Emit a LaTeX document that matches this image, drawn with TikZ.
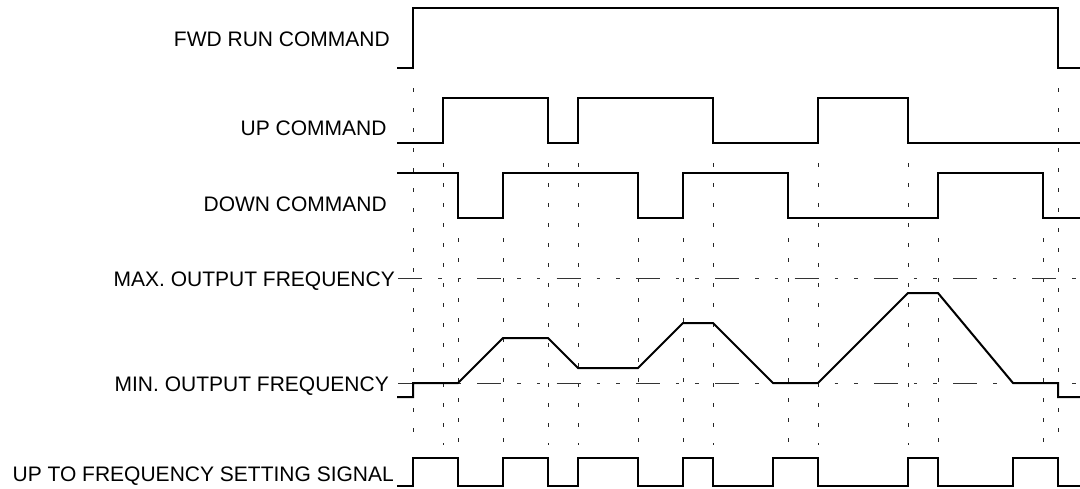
\documentclass[tikz,border=0pt]{standalone}
\usepackage{fontspec}
\setmainfont{Liberation Sans}
\begin{document}
\begin{tikzpicture}[x=1pt,y=-1pt,
  sig/.style={line width=2pt, line join=miter, black},
  guide/.style={line width=0.9pt, black!85, dash pattern=on 4pt off 16pt, dash phase=4pt},
  level/.style={line width=0.9pt, black!80, dash pattern=on 24pt off 16pt on 3.5pt off 16pt on 3.5pt off 16.3pt},
  lbl/.style={anchor=base east, inner sep=0pt, font=\fontsize{21}{25}\selectfont}]
\useasboundingbox (0,0) rectangle (1080,488);
% guide lines
\foreach \gx/\gy in {413/68, 443/143, 458/218, 503/218, 548/143, 578/143, 638/218, 683/218, 713/143, 788/218, 818/143, 908/143, 938/218, 1043/218, 1058/68}
  \draw[guide] (\gx,{\gy+4}) -- (\gx,445);
% level lines
\draw[level] (398,278) -- (1080,278);
\draw[level] (398,383) -- (1080,383);
% signals
\draw[sig] (397,68) -- (413,68) -- (413,8) -- (1058,8) -- (1058,68) -- (1080,68);
\draw[sig] (397,143) -| (443,98) -| (548,143) -| (578,98) -| (713,143) -| (818,98) -| (908,143) -- (1080,143);
\draw[sig] (397,173) -| (458,218) -| (503,173) -| (638,218) -| (683,173) -| (788,218) -| (938,173) -| (1043,218) -- (1080,218);
\draw[sig] (397,397) -- (413,397) -- (413,383) -- (458,383) -- (503,338) -- (548,338) -- (578,368) -- (638,368) -- (683,323) -- (713,323) -- (773,383) -- (818,383) -- (908,293) -- (938,293) -- (1013,383) -- (1058,383) -- (1058,397) -- (1080,397);
\draw[sig] (397,486) -| (413,458) -| (458,486) -| (503,458) -| (548,486) -| (578,458) -| (638,486) -| (683,458) -| (713,486) -| (773,458) -| (818,486) -| (908,458) -| (938,486) -| (1013,458) -| (1058,486) -- (1080,486);
% labels
\node[lbl] (fwd) at (390,46.5) {FWD RUN COMMAND};
\node[lbl] (up) at (386.7,135) {UP COMMAND};
\node[lbl] (down) at (387,211.5) {DOWN COMMAND};
\node[lbl] (max) at (395,286) {MAX. OUTPUT FREQUENCY};
\node[lbl] (min) at (389,391.5) {MIN. OUTPUT FREQUENCY};
\node[lbl] (uptf) at (394,481.5) {UP TO FREQUENCY SETTING SIGNAL};
\end{tikzpicture}
\end{document}
